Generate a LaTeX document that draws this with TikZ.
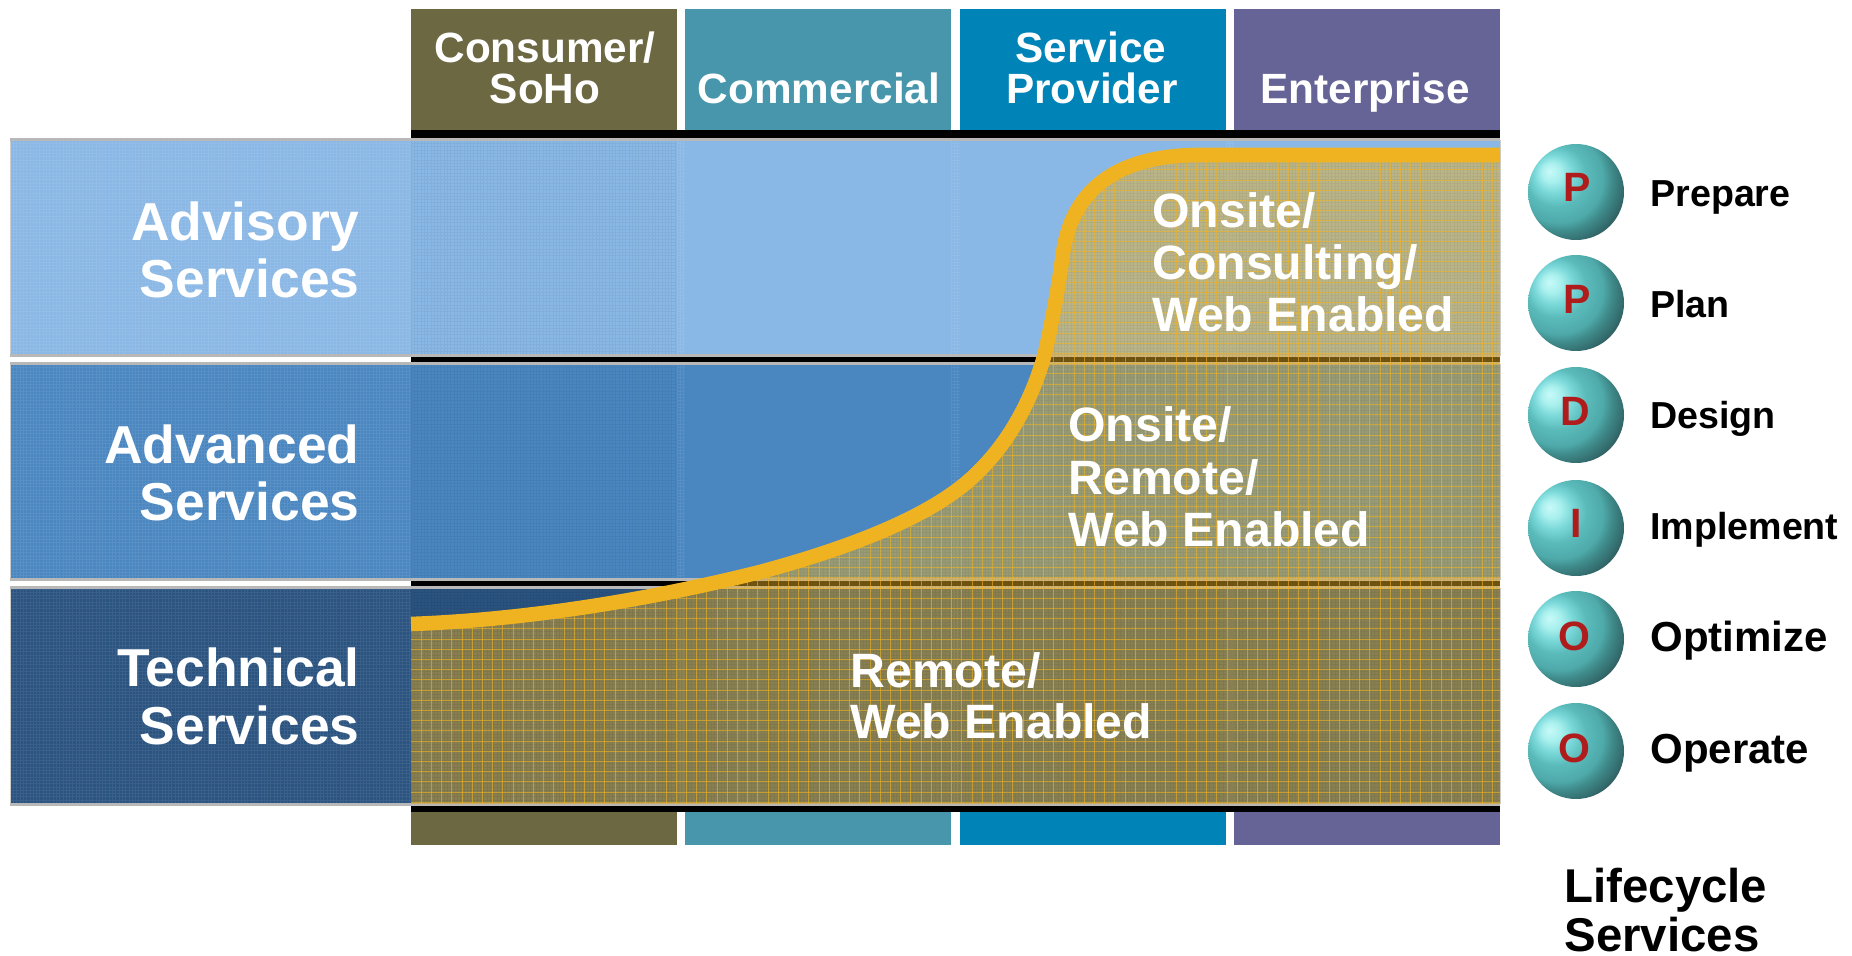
\documentclass[tikz,border=0pt]{standalone}
\usepackage{fontspec}
\setmainfont{Liberation Sans}
\definecolor{colA}{HTML}{6B6842}
\definecolor{colB}{HTML}{4896AB}
\definecolor{colC}{HTML}{0084B8}
\definecolor{colD}{HTML}{666496}
\definecolor{rowA}{HTML}{8AB8E6}
\definecolor{rowB}{HTML}{4A86C0}
\definecolor{rowC}{HTML}{2A5380}
\definecolor{gold}{HTML}{EFB322}
\definecolor{edge}{HTML}{B8B8B8}
\definecolor{ballred}{HTML}{B01C1C}
\pgfdeclareradialshading{sph}{\pgfpoint{-14bp}{11bp}}{
  rgb(0bp)=(.784,.98,.973);
  rgb(5bp)=(.66,.94,.933);
  rgb(10bp)=(.478,.847,.847);
  rgb(16bp)=(.353,.73,.73);
  rgb(23bp)=(.31,.667,.667);
  rgb(27bp)=(.247,.541,.541);
  rgb(32bp)=(.2,.416,.424);
  rgb(36bp)=(.173,.298,.306);
  rgb(39bp)=(.29,.337,.337);
  rgb(65bp)=(.29,.337,.337)}
\tikzset{
  x=.5pt,y=-.5pt,
  headtxt/.style={text=white,font=\bfseries\fontsize{21.15}{21.15}\selectfont,anchor=base,inner sep=0pt},
  rowtxt/.style={text=white,font=\bfseries\fontsize{26.7}{26.7}\selectfont,anchor=base east,inner sep=0pt},
  areatxt/.style={text=white,font=\bfseries\fontsize{24.1}{24.1}\selectfont,anchor=base west,inner sep=0pt},
  lifetxt/.style={text=black,font=\bfseries\fontsize{18.8}{18.8}\selectfont,anchor=base west,inner sep=0pt},
  lifetxtb/.style={lifetxt,font=\bfseries\fontsize{21}{21}\selectfont},
  balltxt/.style={text=ballred,font=\bfseries\fontsize{20.5}{20.5}\selectfont,anchor=base,inner sep=0pt},
  titletxt/.style={text=black,font=\bfseries\fontsize{23.7}{23.7}\selectfont,anchor=base west,inner sep=0pt},
  ball/.style={circle,minimum size=48pt,inner sep=0pt,shading=sph},
  rowedge/.style={edge,line width=1.5pt},
  rowside/.style={edge!70,line width=.5pt},
  meshlight/.style={line width=.25pt,white,opacity=.08},
  meshdark/.style={line width=.25pt,black,opacity=.05},
  goldgrid/.style={line width=.5pt,gold,opacity=.6},
}
\begin{document}
\begin{tikzpicture}
\useasboundingbox (0,0) rectangle (1852,956);
% header and footer bars
\foreach \xa/\xb/\c in {411/677/colA,685/951/colB,960/1226/colC,1234/1500/colD}{
  \fill[\c] (\xa,9) rectangle (\xb,130);
  \fill[\c] (\xa,812) rectangle (\xb,845);
}
% black rules
\foreach \ya/\yb in {130/139,356/364,580/587,804/812}{
  \fill[black] (411,\ya) rectangle (1500,\yb);
}
% rows
\fill[rowA] (10,140) rectangle (1500,356);
\fill[rowB] (10,364) rectangle (1500,580);
\fill[rowC] (10,588) rectangle (1500,804);
% fine mesh: light on the left zone and column gaps, dark on first column
\begin{scope}
\clip (10,140) rectangle (1500,356) (10,364) rectangle (1500,580) (10,588) rectangle (1500,804);
\foreach \xa/\xb/\st in {10/411/meshlight,411/677/meshdark,677/685/meshlight,951/960/meshlight,1226/1234/meshlight}{
  \begin{scope}
  \clip (\xa,140) rectangle (\xb,804);
  \pgfmathsetmacro{\nx}{int((\xb-\xa)/3.3)}
  \draw[\st] foreach \k in {0,...,\nx} { ({\xa+\k*3.3},140) -- ({\xa+\k*3.3},804) }
     foreach \k in {0,...,201} { (\xa,{140+\k*3.3}) -- (\xb,{140+\k*3.3}) };
  \end{scope}
}
\end{scope}
% row borders
\foreach \ya/\yb in {140/356,364/580,588/804}{
  \draw[rowside] (10,\ya) -- (10,\yb);
  \draw[rowside] (1500,\ya) -- (1500,\yb);
  \draw[rowedge] (10,\ya) -- (1500,\ya);
  \draw[rowedge] (10,\yb) -- (1500,\yb);
}
% gold area under the curve
\def\curvepath{(411,624) .. controls (520,620) and (640,602) .. (760,572)
  .. controls (860,545) and (940,512) .. (980,470)
  .. controls (1015,435) and (1035,390) .. (1045,353)
  .. controls (1052,322) and (1058,290) .. (1063,253)
  .. controls (1070,205) and (1100,155) .. (1200,155)
  -- (1500,155)}
\fill[gold,opacity=.48] \curvepath -- (1500,804) -- (411,804) -- cycle;
\begin{scope}
\clip \curvepath -- (1500,804) -- (411,804) -- cycle;
\draw[meshdark] foreach \k in {0,...,330} { ({411+\k*3.3},140) -- ({411+\k*3.3},804) }
   foreach \k in {0,...,201} { (411,{140+\k*3.3}) -- (1500,{140+\k*3.3}) };
\foreach \k in {1,...,107}{
  \draw[goldgrid] ({411+\k*10.2},140) -- ({411+\k*10.2},804);
}
\foreach \k in {0,...,65}{
  \draw[goldgrid] (411,{139.3+\k*10.2}) -- (1500,{139.3+\k*10.2});
}
\end{scope}
\draw[gold,line width=7.3pt] \curvepath;
% header text
\node[headtxt] (h1a) at (545,63) {Consumer/};
\node[headtxt] (h1b) at (545,104) {SoHo};
\node[headtxt] (h2) at (819,104) {Commercial};
\node[headtxt] (h3a) at (1091,63) {Service};
\node[headtxt] (h3b) at (1092,104) {Provider};
\node[headtxt] (h4) at (1365,104) {Enterprise};
% row text
\node[rowtxt] (r1a) at (360,241) {Advisory};
\node[rowtxt] (r1b) at (360,298) {Services};
\node[rowtxt] (r2a) at (360,464) {Advanced};
\node[rowtxt] (r2b) at (360,521) {Services};
\node[rowtxt] (r3a) at (360,686) {Technical};
\node[rowtxt] (r3b) at (360,744) {Services};
% area text
\node[areatxt] (a1a) at (1152,228) {Onsite/};
\node[areatxt] (a1b) at (1152,280) {Consulting/};
\node[areatxt] (a1c) at (1152,332) {Web Enabled};
\node[areatxt] (a2a) at (1068,442) {Onsite/};
\node[areatxt] (a2b) at (1068,495) {Remote/};
\node[areatxt] (a2c) at (1068,546) {Web Enabled};
\node[areatxt] (a3a) at (850,687) {Remote/};
\node[areatxt] (a3b) at (850,738) {Web Enabled};
% lifecycle
\foreach \n/\y/\lx/\ly/\l/\ty/\st/\t in {
  1/192/1577/202/P/207/lifetxt/Prepare,
  2/303/1577/314/P/318/lifetxt/Plan,
  3/415/1575/426/D/429/lifetxt/Design,
  4/528/1576/538/I/540/lifetxt/Implement,
  5/639/1574/650/O/651/lifetxtb/Optimize,
  6/751/1574/762/O/763/lifetxtb/Operate}{
  \node[ball] (b\n) at (1576,\y) {};
  \node[balltxt] (bl\n) at (\lx,\ly) {\l};
  \node[\st] (t\n) at (1650,\ty) {\t};
}
\node[titletxt] (lc1) at (1564,902) {Lifecycle};
\node[titletxt] (lc2) at (1564,951) {Services};
\end{tikzpicture}
\end{document}
